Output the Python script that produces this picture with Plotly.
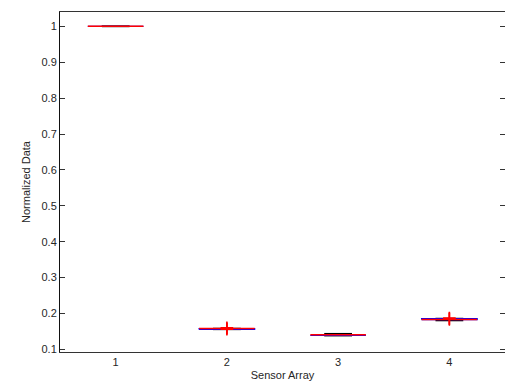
import plotly.graph_objects as go

# Data
sensors = [1, 2, 3, 4]
tick_labels = ["1", "2", "3", "4"]
medians = [1.0, 0.1580, 0.1405, 0.1830]
q1 = [1.0, 0.1555, 0.1385, 0.1830]
q3 = [1.0, 0.1580, 0.1405, 0.1858]
lower_adj = [1.0, 0.1555, 0.1380, 0.1802]
upper_adj = [1.0, 0.1580, 0.1435, 0.1858]
outlier_x = [2, 2, 2, 4, 4, 4]
outlier_y = [0.1560, 0.1580, 0.1600, 0.1835, 0.1855, 0.1870]
y_ticks = [0.1, 0.2, 0.3, 0.4, 0.5, 0.6, 0.7, 0.8, 0.9, 1.0]
y_tick_text = ["0.1", "0.2", "0.3", "0.4", "0.5", "0.6", "0.7", "0.8", "0.9", "1"]

BOX_W = 0.5
CAP_W = 0.25

fig = go.Figure()

# whiskers (dashed) and caps
wx, wy, cx, cy = [], [], [], []
for s, a, b, lo, hi in zip(sensors, q1, q3, lower_adj, upper_adj):
    wx += [s, s, None, s, s, None]
    wy += [b, hi, None, lo, a, None]
    cx += [s - CAP_W / 2, s + CAP_W / 2, None, s - CAP_W / 2, s + CAP_W / 2, None]
    cy += [hi, hi, None, lo, lo, None]
fig.add_trace(go.Scatter(x=wx, y=wy, mode="lines",
                         line=dict(color="black", width=1, dash="dash"),
                         hoverinfo="skip", showlegend=False))
fig.add_trace(go.Scatter(x=cx, y=cy, mode="lines",
                         line=dict(color="black", width=1.5),
                         hoverinfo="skip", showlegend=False))

# boxes
bx, by = [], []
for s, a, b in zip(sensors, q1, q3):
    l, r = s - BOX_W / 2, s + BOX_W / 2
    bx += [l, r, r, l, l, None]
    by += [a, a, b, b, a, None]
fig.add_trace(go.Scatter(x=bx, y=by, mode="lines",
                         line=dict(color="#0000ff", width=1.2),
                         hoverinfo="skip", showlegend=False))

# medians
mx, my = [], []
for s, m in zip(sensors, medians):
    mx += [s - BOX_W / 2, s + BOX_W / 2, None]
    my += [m, m, None]
fig.add_trace(go.Scatter(x=mx, y=my, mode="lines",
                         line=dict(color="#ff0000", width=1.5),
                         hoverinfo="skip", showlegend=False))

# outliers
fig.add_trace(go.Scatter(x=outlier_x, y=outlier_y, mode="markers",
                         marker=dict(symbol="cross-thin", size=9,
                                     line=dict(color="#ff0000", width=1.5)),
                         hoverinfo="skip", showlegend=False))

font = dict(family="Liberation Sans, Arial, sans-serif", size=11, color="#262626")

fig.update_layout(
    width=505, height=387,
    margin=dict(l=60, r=0, t=12, b=35),
    paper_bgcolor="white", plot_bgcolor="white",
    font=font,
    showlegend=False,
    xaxis=dict(
        range=[0.5, 4.5], tickvals=sensors, ticktext=tick_labels,
        ticks="", showgrid=False, zeroline=False,
        showline=True, linecolor="#333333", linewidth=1, mirror=True,
        title=dict(text="Sensor Array", font=font, standoff=4),
        tickfont=font,
    ),
    yaxis=dict(
        range=[0.0925, 1.04], tickvals=y_ticks, ticktext=y_tick_text,
        ticks="inside", ticklen=5, tickcolor="#333333",
        showgrid=False, zeroline=False,
        showline=True, linecolor="#111111", linewidth=1, mirror="ticks",
        title=dict(text="Normalized Data", font=font, standoff=8),
        tickfont=font,
    ),
)

fig.write_html("out.html")
